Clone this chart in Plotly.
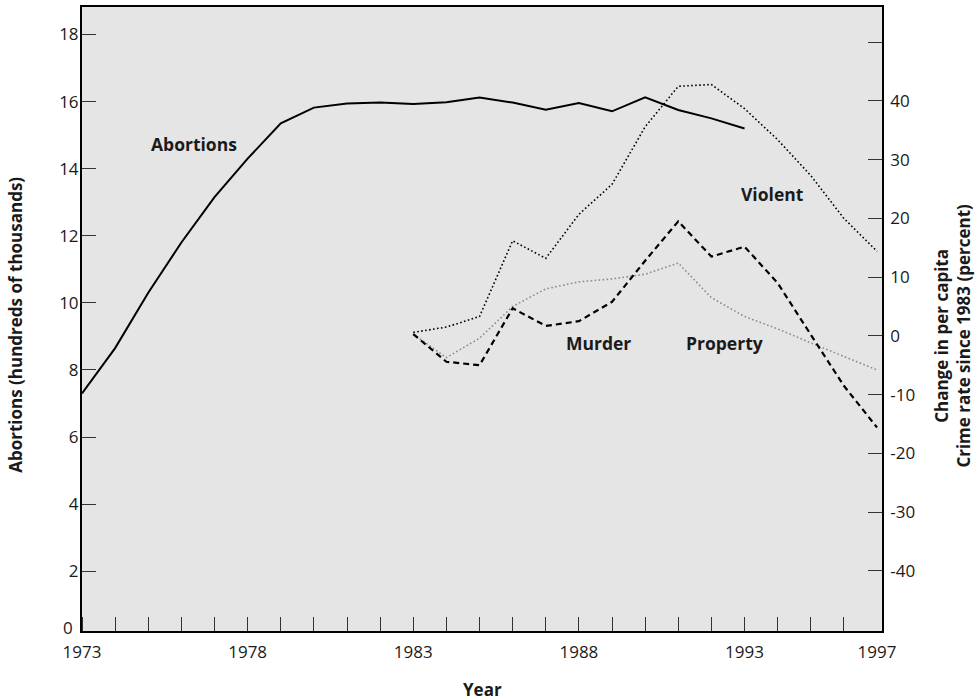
import plotly.graph_objects as go

# ---- data ----
abortion_years = list(range(1973, 1994))
abortions = [7.3, 8.65, 10.3, 11.8, 13.15, 14.3, 15.35, 15.82, 15.94, 15.97,
             15.93, 15.98, 16.12, 15.97, 15.76, 15.96, 15.71, 16.13, 15.75, 15.5, 15.2]

crime_years = list(range(1983, 1998))
violent = [0.6, 1.5, 3.3, 16.2, 13.2, 20.7, 25.8, 35.6, 42.5, 42.8, 38.7, 33.4, 27.3, 20.0, 14.4]
murder = [0.3, -4.4, -5.0, 4.7, 1.7, 2.5, 5.8, 12.8, 19.5, 13.5, 15.2, 9.0, 0.2, -8.5, -15.6]
prop = [0.3, -3.7, -0.4, 5.0, 8.0, 9.2, 9.7, 10.5, 12.4, 6.5, 3.3, 1.2, -1.2, -3.5, -5.8]

x_label_years = [1973, 1978, 1983, 1988, 1993, 1997]
x_minor_years = list(range(1973, 1997))
left_ticks = [2, 4, 6, 8, 10, 12, 14, 16, 18]
right_ticks = [-40, -30, -20, -10, 0, 10, 20, 30, 40, 50]
right_ticktext = ["-40", "-30", "-20", "-10", "0", "10", "20", "30", "40", ""]

FONT = "Open Sans"
INK = "#1a1a1a"

fig = go.Figure()
fig.add_trace(go.Scatter(x=abortion_years, y=abortions, mode="lines",
                         line=dict(color="black", width=2), yaxis="y", showlegend=False))
fig.add_trace(go.Scatter(x=crime_years, y=violent, mode="lines",
                         line=dict(color="black", width=1.6, dash="1.6px,2.4px"),
                         yaxis="y2", showlegend=False))
fig.add_trace(go.Scatter(x=crime_years, y=prop, mode="lines",
                         line=dict(color="#8c8c8c", width=1.6, dash="1.6px,2.4px"),
                         yaxis="y2", showlegend=False))
fig.add_trace(go.Scatter(x=crime_years, y=murder, mode="lines",
                         line=dict(color="black", width=2.2, dash="6px,4px"),
                         yaxis="y2", showlegend=False))

tickfont = dict(family=FONT, size=17, color=INK)

fig.update_layout(
    width=979, height=700,
    margin=dict(l=82, r=97, t=5, b=69),
    paper_bgcolor="white",
    plot_bgcolor="#e5e5e5",
    font=dict(family=FONT, color=INK),
    xaxis=dict(
        range=[1973, 1997.15], showgrid=False, zeroline=False,
        tickmode="array", tickvals=x_label_years,
        ticktext=[str(v) for v in x_label_years],
        ticks="", tickfont=tickfont, ticklabelstandoff=5,
        showline=True, linecolor="black", linewidth=2, mirror=True,
        minor=dict(tickmode="array", tickvals=x_minor_years, ticks="inside",
                   ticklen=14, tickcolor="#333", tickwidth=1.2, showgrid=False),
    ),
    yaxis=dict(
        range=[0.217, 18.82], showgrid=False, zeroline=False,
        tickmode="array", tickvals=left_ticks,
        ticks="inside", ticklen=14, tickcolor="#333", tickwidth=1.2,
        tickfont=tickfont, ticklabelstandoff=-2,
        showline=True, linecolor="black", linewidth=2,
    ),
    yaxis2=dict(
        range=[-50.25, 56.0], overlaying="y", side="right", showgrid=False, zeroline=False,
        tickmode="array", tickvals=right_ticks, ticktext=right_ticktext,
        ticks="inside", ticklen=14, tickcolor="#333", tickwidth=1.2,
        tickfont=tickfont, ticklabelstandoff=3,
        showline=True, linecolor="black", linewidth=1.6,
    ),
)

label_font = dict(family=FONT, size=17.5, color=INK, weight="bold")
title_font = dict(family=FONT, size=17, color=INK, weight="bold")

annotations = [
    dict(text="Abortions", x=1976.39, y=14.74, xref="x", yref="y", showarrow=False, font=label_font),
    dict(text="Violent", x=1993.83, y=24.2, xref="x", yref="y2", showarrow=False, font=label_font),
    dict(text="Murder", x=1988.6, y=-1.25, xref="x", yref="y2", showarrow=False, font=label_font),
    dict(text="Property", x=1992.4, y=-1.25, xref="x", yref="y2", showarrow=False, font=label_font),
    dict(text="0", x=0, y=0.33, xref="paper", yref="y", xanchor="right", yanchor="middle",
         xshift=-7, showarrow=False, font=tickfont),
    dict(text="Year", x=0.5, y=-0.093, xref="paper", yref="paper", xanchor="center",
         yanchor="middle", showarrow=False, font=title_font),
    dict(text="Abortions (hundreds of thousands)", x=-0.0825, y=0.4907, xref="paper", yref="paper",
         xanchor="center", yanchor="middle", textangle=-90, showarrow=False, font=title_font),
    dict(text="Change in per capita<br>Crime rate since 1983 (percent)", x=1.088, y=0.474,
         xref="paper", yref="paper", xanchor="center", yanchor="middle",
         textangle=-90, showarrow=False, font=title_font),
]
fig.update_layout(annotations=annotations)

fig.write_html("out.html", config={"displayModeBar": False},
               post_script="document.body.style.margin='0px';")
